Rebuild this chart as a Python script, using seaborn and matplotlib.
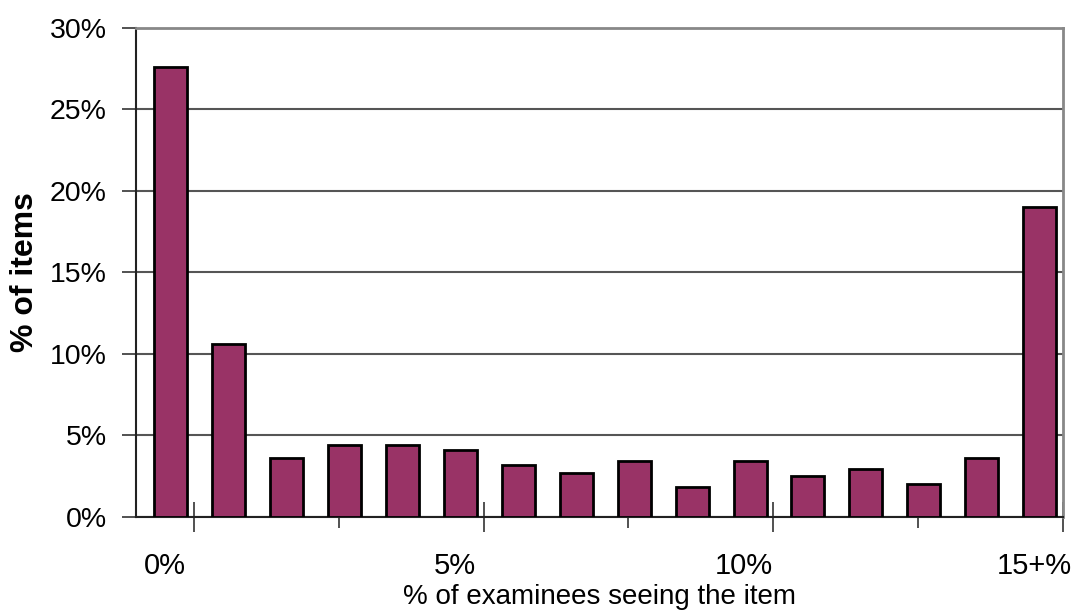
import matplotlib
matplotlib.use('Agg')
import matplotlib.pyplot as plt
import seaborn as sns
import pandas as pd
from matplotlib.ticker import FuncFormatter

sns.set_style('white')
plt.rcParams['font.family'] = ['Liberation Sans', 'DejaVu Sans']
plt.rcParams['text.color'] = 'black'
plt.rcParams['axes.labelcolor'] = 'black'
plt.rcParams['xtick.labelcolor'] = 'black'
plt.rcParams['ytick.labelcolor'] = 'black'

# ── Data ─────────────────────────────────────────────────────────────────────
bins       = [str(i) for i in range(16)]          # 0% ... 15+% of examinees
pct_items  = [27.6, 10.6, 3.6, 4.4, 4.4, 4.1, 3.2, 2.7,
              3.45, 1.85, 3.45, 2.5, 2.95, 2.0, 3.6, 19.0]
label_pos  = [0, 5, 10, 15]
label_text = ['0%', '5%', '10%', '15+%']

df = pd.DataFrame({'bin': bins, 'pct': pct_items})

fig = plt.figure(figsize=(10.74, 6.14), dpi=100)
ax = fig.add_axes([0.1266, 0.158, 0.863, 0.7964])

sns.barplot(data=df, x='bin', y='pct', color='#993366', saturation=1,
            width=0.57, edgecolor='black', linewidth=2, ax=ax, zorder=3)
for p in ax.patches:
    p.set_x(p.get_x() + 0.1)

ax.set_xlim(-0.5, 15.5)
ax.set_ylim(0, 30)
ax.set_yticks(range(0, 31, 5))
ax.yaxis.set_major_formatter(FuncFormatter(lambda v, _: f'{v:.0f}%'))
ax.tick_params(axis='y', labelsize=20.5, length=10, width=1.2, pad=11,
               left=True, color='#333333')
ax.yaxis.grid(True, color='#555555', linewidth=1.5, zorder=0)
ax.set_axisbelow(True)

# tick marks between categories, labels on the category centres
ax.set_xticks([0.5, 5.5, 10.5, 15.5])
ax.set_xticklabels([])
ax.set_xticks([3, 8, 13], minor=True)
ax.tick_params(axis='x', which='major', direction='inout', length=22,
               width=1.2, bottom=True, color='#333333')
ax.tick_params(axis='x', which='minor', direction='inout', length=16,
               width=1.2, bottom=True, color='#333333')
ax.set_xlabel('')

sec = ax.secondary_xaxis('bottom')
sec.set_xticks(label_pos, labels=label_text)
sec.tick_params(length=0, labelsize=21, pad=25)
sec.spines['bottom'].set_visible(False)
sec.set_xlabel('% of examinees seeing the item', fontsize=20, labelpad=3)

ax.set_ylabel('% of items', fontsize=23, fontweight='bold', labelpad=7)

for side in ['left', 'bottom']:
    ax.spines[side].set_color('#222222')
    ax.spines[side].set_linewidth(1.5)
for side in ['top', 'right']:
    ax.spines[side].set_color('#888888')
    ax.spines[side].set_linewidth(2)

fig.savefig('out.png', dpi=100)
